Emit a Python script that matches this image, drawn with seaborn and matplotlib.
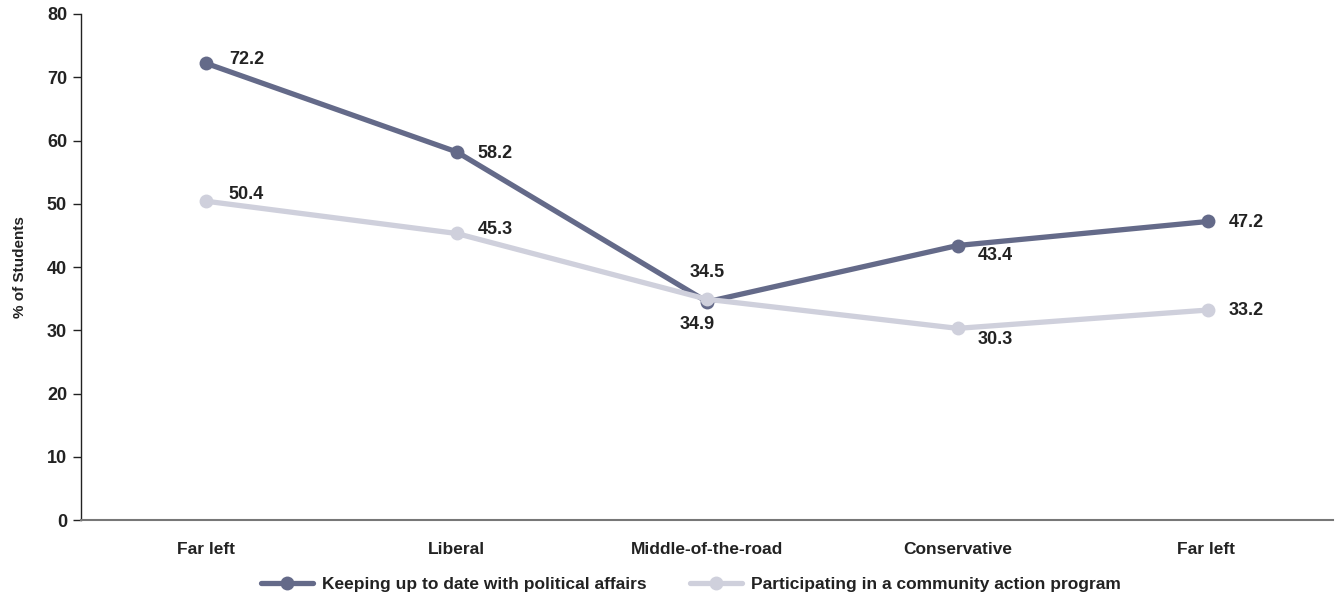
import matplotlib
matplotlib.use("Agg")
import matplotlib.pyplot as plt
import seaborn as sns
import pandas as pd

categories = ["Far left", "Liberal", "Middle-of-the-road", "Conservative", "Far left "]
series_names = ["Keeping up to date with political affairs", "Participating in a community action program"]
keeping = [72.2, 58.2, 34.5, 43.4, 47.2]
participating = [50.4, 45.3, 34.9, 30.3, 33.2]
y_ticks = [0, 10, 20, 30, 40, 50, 60, 70, 80]

sns.set_theme(style="white")
plt.rcParams['font.family'] = ['Liberation Sans', 'DejaVu Sans']
plt.rcParams['font.weight'] = 'bold'

dark = "#646a89"
light = "#cfd0dc"

rows = []
for i, c in enumerate(categories):
    rows.append({"pos": i, "cat": c, "value": keeping[i], "series": series_names[0]})
for i, c in enumerate(categories):
    rows.append({"pos": i, "cat": c, "value": participating[i], "series": series_names[1]})
df = pd.DataFrame(rows)

fig = plt.figure(figsize=(13.38, 5.98), dpi=100)
ax = fig.add_axes([0.0605, 0.1304, 0.936, 0.8462])

sns.lineplot(data=df, x="pos", y="value", hue="series", palette=[dark, light],
             marker="o", markersize=10, markeredgewidth=0, linewidth=3.8,
             ax=ax, legend=True)

ax.set_xlim(-0.5, 4.5)
ax.set_ylim(0, 80)
ax.set_xticks(range(len(categories)))
ax.set_xticklabels(categories, fontsize=12.5, fontweight='bold', color="#222222")
ax.set_yticks(y_ticks)
ax.set_yticklabels([str(t) for t in y_ticks], fontsize=13, fontweight='bold', color="#222222")
ax.tick_params(axis='y', which='both', left=True, length=6, width=1, color="#222222", pad=4)
ax.tick_params(axis='x', which='both', bottom=False, pad=10)
ax.set_xlabel("")
ax.set_ylabel("% of Students", fontsize=11, fontweight='bold', color="#222222", labelpad=14)

for s in ["top", "right"]:
    ax.spines[s].set_visible(False)
ax.spines["left"].set_color("#222222")
ax.spines["left"].set_linewidth(1.0)
ax.spines["bottom"].set_color("#777777")
ax.spines["bottom"].set_linewidth(1.5)

# data labels
k_off = [(16.5, 3), (15, -1), (0, 21), (14.5, -7), (15, -1)]
p_off = [(16, 5), (15, 3), (-7, -18), (14.5, -8), (15, 0)]
k_ha = ["left", "left", "center", "left", "left"]
p_ha = ["left", "left", "center", "left", "left"]
for i in range(len(categories)):
    ax.annotate(f"{keeping[i]:.1f}", (i, keeping[i]), xytext=k_off[i], textcoords="offset points",
                ha=k_ha[i], va="center", fontsize=13, fontweight='bold', color="#222222")
    ax.annotate(f"{participating[i]:.1f}", (i, participating[i]), xytext=p_off[i], textcoords="offset points",
                ha=p_ha[i], va="center", fontsize=13, fontweight='bold', color="#222222")

leg = ax.legend(loc="center", bbox_to_anchor=(0.487, -0.128), ncol=2, frameon=False,
                fontsize=12.5, handlelength=3, columnspacing=2.5, handletextpad=0.5)
for t in leg.get_texts():
    t.set_fontweight('bold')
    t.set_color("#222222")

fig.savefig("out.png", dpi=100)
